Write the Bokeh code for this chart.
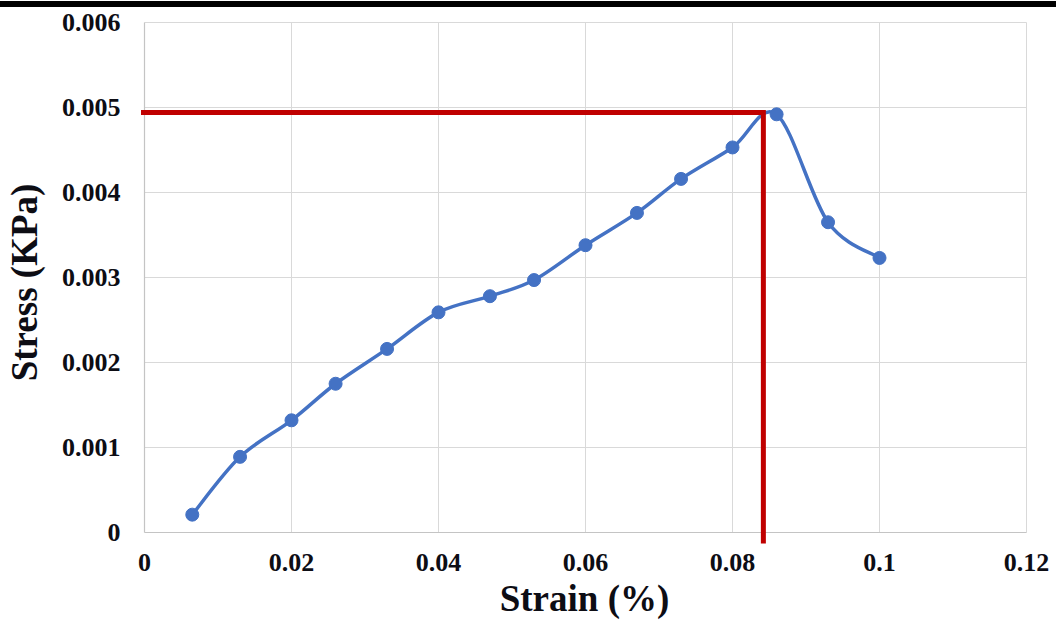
from bokeh.plotting import figure
from bokeh.models import FixedTicker, Div
from bokeh.layouts import column
from bokeh.embed import file_html
from bokeh.resources import INLINE

# ---- data ----
strain = [0.0065, 0.013, 0.02, 0.026, 0.033, 0.04, 0.047, 0.053, 0.06,
          0.067, 0.073, 0.08, 0.086, 0.093, 0.1]
stress = [0.00021, 0.00089, 0.00132, 0.00175, 0.00216, 0.00259, 0.00278,
          0.00297, 0.00338, 0.00376, 0.00416, 0.00453, 0.00492, 0.00365, 0.00323]
peak_strain = 0.0842
peak_stress = 0.00494

x_ticks = [0, 0.02, 0.04, 0.06, 0.08, 0.1, 0.12]
x_tick_labels = ["0", "0.02", "0.04", "0.06", "0.08", "0.1", "0.12"]
y_ticks = [0, 0.001, 0.002, 0.003, 0.004, 0.005, 0.006]
y_tick_labels = ["0", "0.001", "0.002", "0.003", "0.004", "0.005", "0.006"]

# ---- layout (pixels) ----
XPX = 7350.0     # px per unit strain
YPX = 85000.0    # px per unit stress
frame_w, frame_h = 888, 526
x_start = -4 / XPX
x_end = x_start + frame_w / XPX
y_start = -13 / YPX
y_end = y_start + frame_h / YPX

p = figure(frame_width=frame_w, frame_height=frame_h,
           min_border_left=139, min_border_right=29,
           min_border_top=12, min_border_bottom=86,
           x_range=(x_start, x_end), y_range=(y_start, y_end),
           output_backend="svg", toolbar_location=None,
           background_fill_color="white", border_fill_color="white")
p.outline_line_color = None
p.xgrid.visible = False
p.ygrid.visible = False

FONT = "Liberation Serif"
for ax, ticks, labels in ((p.xaxis[0], x_ticks, x_tick_labels),
                          (p.yaxis[0], y_ticks, y_tick_labels)):
    ax.ticker = FixedTicker(ticks=ticks)
    ax.major_label_overrides = {t: l for t, l in zip(ticks, labels)}
    ax.axis_line_color = None
    ax.major_tick_line_color = None
    ax.minor_tick_line_color = None
    ax.major_tick_in = 0
    ax.major_tick_out = 0
    ax.major_label_text_font = FONT
    ax.major_label_text_font_style = "bold"
    ax.major_label_text_font_size = "26px"
    ax.major_label_text_color = "#0d0d14"
    ax.axis_label_text_font = FONT
    ax.axis_label_text_font_style = "bold"
    ax.axis_label_text_font_size = "37px"
    ax.axis_label_text_color = "#0d0d14"

p.xaxis.axis_label = "Strain (%)"
p.yaxis.axis_label = "Stress (KPa)"
p.xaxis.major_label_standoff = 8
p.xaxis.axis_label_standoff = 4
p.yaxis.major_label_standoff = 20
p.yaxis.axis_label_standoff = 14

# ---- grid built from the tick lists ----
xmax, ymax = x_ticks[-1], y_ticks[-1]
p.segment(x0=x_ticks[1:], y0=[0] * (len(x_ticks) - 1), x1=x_ticks[1:], y1=[ymax] * (len(x_ticks) - 1),
          line_color="#d9d9d9", line_width=1)
p.segment(x0=[0] * (len(y_ticks) - 1), y0=y_ticks[1:], x1=[xmax] * (len(y_ticks) - 1), y1=y_ticks[1:],
          line_color="#d9d9d9", line_width=1)
# axis lines
p.segment(x0=[0, 0], y0=[0, 0], x1=[0, xmax], y1=[ymax, 0], line_color="#c4c4c4", line_width=1.2)

# ---- smoothed curve (Catmull-Rom style bezier through the data) ----
n = len(strain)
bx0, by0, bx1, by1, cx0, cy0, cx1, cy1 = [], [], [], [], [], [], [], []
for i in range(n - 1):
    xa, ya = strain[i], stress[i]
    xb, yb = strain[i + 1], stress[i + 1]
    xp, yp = (strain[i - 1], stress[i - 1]) if i > 0 else (xa, ya)
    xn, yn = (strain[i + 2], stress[i + 2]) if i + 2 < n else (xb, yb)
    bx0.append(xa); by0.append(ya); bx1.append(xb); by1.append(yb)
    cx0.append(xa + (xb - xp) / 6); cy0.append(ya + (yb - yp) / 6)
    cx1.append(xb - (xn - xa) / 6); cy1.append(yb - (yn - ya) / 6)
p.bezier(x0=bx0, y0=by0, x1=bx1, y1=by1, cx0=cx0, cy0=cy0, cx1=cx1, cy1=cy1,
         line_color="#4472c4", line_width=3.5)
p.scatter(strain, stress, size=13, marker="circle",
          fill_color="#4472c4", line_color="#4472c4")

# ---- red guide lines to the peak ----
p.line(x=[x_start + 0.5 / XPX, peak_strain, peak_strain],
       y=[peak_stress, peak_stress, y_start + 2 / YPX],
       line_color="#c00000", line_width=5, line_join="miter")

bar = Div(text="", width=1056, height=6, margin=(1, 0, 0, 0),
          styles={"background-color": "black"})
layout = column(bar, p, spacing=0)
open("out.html", "w").write(file_html(layout, INLINE))
